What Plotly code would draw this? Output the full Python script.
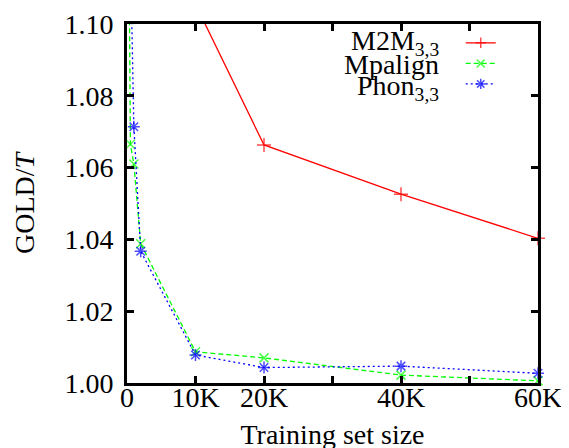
import plotly.graph_objects as go

# Data
m2m_x = [10000, 20000, 40000, 60000]
m2m_y = [1.1055, 1.0663, 1.0526, 1.0403]

mpalign_x = [250, 500, 1000, 2000, 10000, 20000, 40000, 60000]
mpalign_y = [1.13, 1.0665, 1.0610, 1.0388, 1.0087, 1.0070, 1.0022, 1.0006]

phon_x = [500, 1000, 2000, 10000, 20000, 40000, 60000]
phon_y = [1.12, 1.0714, 1.0367, 1.0078, 1.0043, 1.0047, 1.0027]

x_tickvals = [0, 10000, 20000, 30000, 40000, 50000, 60000]
x_ticktext = ["0", "10K", "20K", "", "40K", "", "60K"]
y_tickvals = [1.00, 1.02, 1.04, 1.06, 1.08, 1.10]

series_labels = ["M2M<sub>3,3</sub>", "Mpalign", "Phon<sub>3,3</sub>"]

Y_MAX = 1.10
FONT = "Liberation Serif"
FS = 28

def sizes(vals, s):
    return [s if v <= Y_MAX else 0 for v in vals]

fig = go.Figure()
fig.add_trace(go.Scatter(
    x=m2m_x, y=m2m_y, mode="lines+markers", name=" ",
    line=dict(color="#ff0000", width=1.3),
    marker=dict(symbol="cross-thin", size=sizes(m2m_y, 10),
                line=dict(color="#ff0000", width=1.5)),
    cliponaxis=False,
))
fig.add_trace(go.Scatter(
    x=mpalign_x, y=mpalign_y, mode="lines+markers", name=" ",
    line=dict(color="#00ff00", width=1.3, dash="5px,3px"),
    marker=dict(symbol="x-thin", size=sizes(mpalign_y, 9),
                line=dict(color="#00ff00", width=1.5)),
    cliponaxis=False,
))
fig.add_trace(go.Scatter(
    x=phon_x, y=phon_y, mode="lines+markers", name=" ",
    line=dict(color="#0000ff", width=1.3, dash="2px,3px"),
    marker=dict(symbol="asterisk", size=sizes(phon_y, 10),
                line=dict(color="#0000ff", width=1.5)),
    cliponaxis=False,
))
# invisible trace so the frame/tick x axis (x2) is drawn
fig.add_trace(go.Scatter(
    x=m2m_x, y=m2m_y, xaxis="x2", yaxis="y", mode="none",
    showlegend=False, hoverinfo="skip",
))

# legend labels placed to the left of the samples (gnuplot style)
label_y = [0.948, 0.886, 0.822]
for lab, yy in zip(series_labels, label_y):
    fig.add_annotation(
        text=lab, xref="paper", yref="paper", x=0.763, y=yy,
        xanchor="right", yanchor="middle", showarrow=False,
        font=dict(family=FONT, size=FS, color="black"),
    )

tick_common = dict(
    ticks="inside", ticklen=7, tickwidth=2.5, tickcolor="black",
    showgrid=False, zeroline=False, automargin=False,
    tickfont=dict(family=FONT, size=FS, color="black"),
)

fig.update_layout(
    width=569, height=448,
    margin=dict(l=119, r=39, t=16, b=73, autoexpand=False),
    plot_bgcolor="white", paper_bgcolor="white",
    font=dict(family=FONT, size=FS, color="black"),
    showlegend=True,
    legend=dict(
        x=0.812, y=0.99, xanchor="left", yanchor="top",
        bgcolor="rgba(0,0,0,0)", font=dict(family=FONT, size=13.5),
        itemwidth=30, tracegroupgap=0,
    ),
    # labels-only x axis, lifted slightly so labels sit close to the frame
    xaxis=dict(
        range=[0, 60000], tickmode="array", tickvals=x_tickvals,
        ticktext=x_ticktext, anchor="free", position=0.013,
        showline=False,
        title=dict(text="Training set size", standoff=12,
                   font=dict(family=FONT, size=FS)),
        **{**tick_common, "ticks": ""},
    ),
    # frame + ticks x axis (no labels)
    xaxis2=dict(
        overlaying="x", matches="x", anchor="y", side="bottom",
        tickmode="array", tickvals=x_tickvals, showticklabels=False,
        showline=True, linecolor="black", linewidth=3, mirror="ticks",
        **tick_common,
    ),
    yaxis=dict(
        range=[1.0, 1.10], tickmode="array", tickvals=y_tickvals,
        tickformat=".2f", ticklabelstandoff=5,
        showline=True, linecolor="black", linewidth=3, mirror="ticks",
        title=dict(text="GOLD/<i>T</i>", standoff=22,
                   font=dict(family=FONT, size=FS)),
        **tick_common,
    ),
)

fig.write_html("out.html")
